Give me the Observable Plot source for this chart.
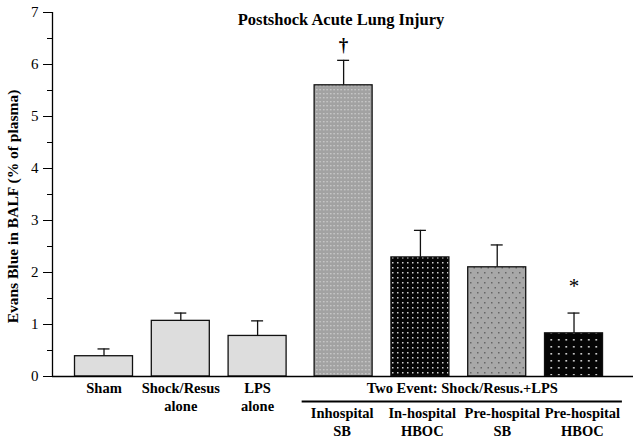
<!DOCTYPE html>
<html><head><meta charset="utf-8">
<script src="https://cdn.jsdelivr.net/npm/d3@7"></script>
<script src="https://cdn.jsdelivr.net/npm/@observablehq/plot@0.6"></script>
<style>body{margin:0;background:#fff}</style>
</head><body>
<svg width="0" height="0" style="position:absolute">
<defs>
<pattern id="patA" width="3.5" height="4" patternUnits="userSpaceOnUse">
<rect width="3.5" height="4" fill="#a2a2a2"/><rect x="1" y="1" width="1.4" height="1.4" fill="#cdcdcd"/>
</pattern>
<pattern id="patB" width="5" height="5" patternUnits="userSpaceOnUse">
<rect width="5" height="5" fill="#050505"/><rect x="2" y="2" width="1.5" height="1.5" fill="#d0d0d0"/>
</pattern>
<pattern id="patC" width="7" height="10" patternUnits="userSpaceOnUse">
<rect width="7" height="10" fill="#a8a8a8"/><rect x="1" y="2" width="1.5" height="1.5" fill="#666"/><rect x="4.5" y="7" width="1.5" height="1.5" fill="#666"/>
</pattern>
<pattern id="patD" width="7.5" height="7" patternUnits="userSpaceOnUse">
<rect width="7.5" height="7" fill="#050505"/><rect x="3" y="3" width="1.6" height="1.6" fill="#e6e6e6"/>
</pattern>
</defs></svg>
<div id="chart"></div>
<script>
// ---- data ----
const groups = ["Sham","Shock/Resus alone","LPS alone","Inhospital SB","In-hospital HBOC","Pre-hospital SB","Pre-hospital HBOC"];
const labelLine1 = ["Sham","Shock/Resus","LPS","Inhospital","In-hospital","Pre-hospital","Pre-hospital"];
const labelLine2 = ["","alone","alone","SB","HBOC","SB","HBOC"];
const means = [0.39, 1.07, 0.78, 5.60, 2.29, 2.10, 0.83];
const sems  = [0.14, 0.15, 0.29, 0.48, 0.52, 0.43, 0.39];
const twoEvent = [false,false,false,true,true,true,true];
const sigMarks = ["","","","†","","","*"];
const yTicks = [0,1,2,3,4,5,6,7];
const yMinorTicks = [0.5,1.5,2.5,3.5,4.5,5.5,6.5];
const groupLabel = "Two Event: Shock/Resus.+LPS";
const title = "Postshock Acute Lung Injury";
const yLabel = "Evans Blue in BALF (% of plasma)";

// ---- styles / layout (code) ----
const fills = ["#dddddd","#dddddd","#dddddd","url(#patA)","url(#patB)","url(#patC)","url(#patD)"];
const gapShift = 0.12, halfW = 0.3776, capHalf = 0.078;
const data = groups.map((g, i) => ({
  g, i, mean: means[i], sem: sems[i], top: means[i] + sems[i],
  slot: i + (twoEvent[i] ? gapShift : 0),
  l1: labelLine1[i], l2: labelLine2[i], mark: sigMarks[i], fill: fills[i], two: twoEvent[i]
}));
const single = data.filter(d => !d.two);
const two = data.filter(d => d.two);
const xMin = -0.6706, xMax = 6.8945;
const lineX1 = two[0].slot - 0.54, lineX2 = two[two.length - 1].slot + 0.63;
const quarter = (lineX2 - lineX1) / two.length;
const twoLabels = two.map((d, k) => ({...d, lx: lineX1 + quarter * (k + 0.5)}));

const bold = {fontWeight: "bold", fontSize: 14.5};
const chart = Plot.plot({
  width: 640, height: 442,
  marginLeft: 52, marginRight: 7, marginTop: 12, marginBottom: 66,
  style: {fontFamily: "'Liberation Serif', 'Times New Roman', serif", fontSize: "14px", color: "#000", background: "#fff"},
  x: {type: "linear", domain: [xMin, xMax], axis: null},
  y: {domain: [0, 7], axis: null},
  color: {type: "identity"},
  marks: [
    Plot.rectY(data, {x1: d => d.slot - halfW, x2: d => d.slot + halfW, y: "mean", fill: "fill", stroke: "#111", strokeWidth: 1.3}),
    Plot.ruleX(data, {x: "slot", y1: "mean", y2: "top", stroke: "#111", strokeWidth: 1.3}),
    Plot.ruleY(data, {y: "top", x1: d => d.slot - capHalf, x2: d => d.slot + capHalf, stroke: "#111", strokeWidth: 1.3}),
    Plot.text(data.filter(d => d.mark === "†"), {x: "slot", y: "top", text: "mark", dy: -15, fontSize: 19, fontWeight: "bold"}),
    Plot.text(data.filter(d => d.mark === "*"), {x: "slot", y: "top", text: "mark", dy: -27, fontSize: 21}),
    Plot.axisY({ticks: yTicks, tickFormat: d3.format("d"), tickSize: 9, tickPadding: 5, label: null, fontSize: 15}),
    Plot.axisY({ticks: yMinorTicks, tickSize: 5, text: null, label: null}),
    Plot.ruleX([xMin], {stroke: "#000", strokeWidth: 1.3}),
    Plot.ruleY([0], {stroke: "#000", strokeWidth: 1.3}),
    Plot.text(single, {x: "slot", y: 0, text: "l1", dy: 12, ...bold}),
    Plot.text(single, {x: "slot", y: 0, text: "l2", dy: 30, ...bold}),
    Plot.text([groupLabel], {x: (lineX1 + lineX2) / 2, y: 0, dy: 12, ...bold}),
    Plot.ruleY([0], {x1: lineX1, x2: lineX2, dy: 25, stroke: "#000", strokeWidth: 2}),
    Plot.text(twoLabels, {x: "lx", y: 0, text: "l1", dy: 37, ...bold}),
    Plot.text(twoLabels, {x: "lx", y: 0, text: "l2", dy: 55, ...bold}),
    Plot.text([title], {frameAnchor: "top", dy: 1, dx: -2, fontWeight: "bold", fontSize: 16.5}),
    Plot.text([yLabel], {frameAnchor: "left", textAnchor: "middle", rotate: -90, dx: -39, dy: 12, fontWeight: "bold", fontSize: 15.5})
  ]
});
document.getElementById("chart").appendChild(chart);
</script>
</body></html>
